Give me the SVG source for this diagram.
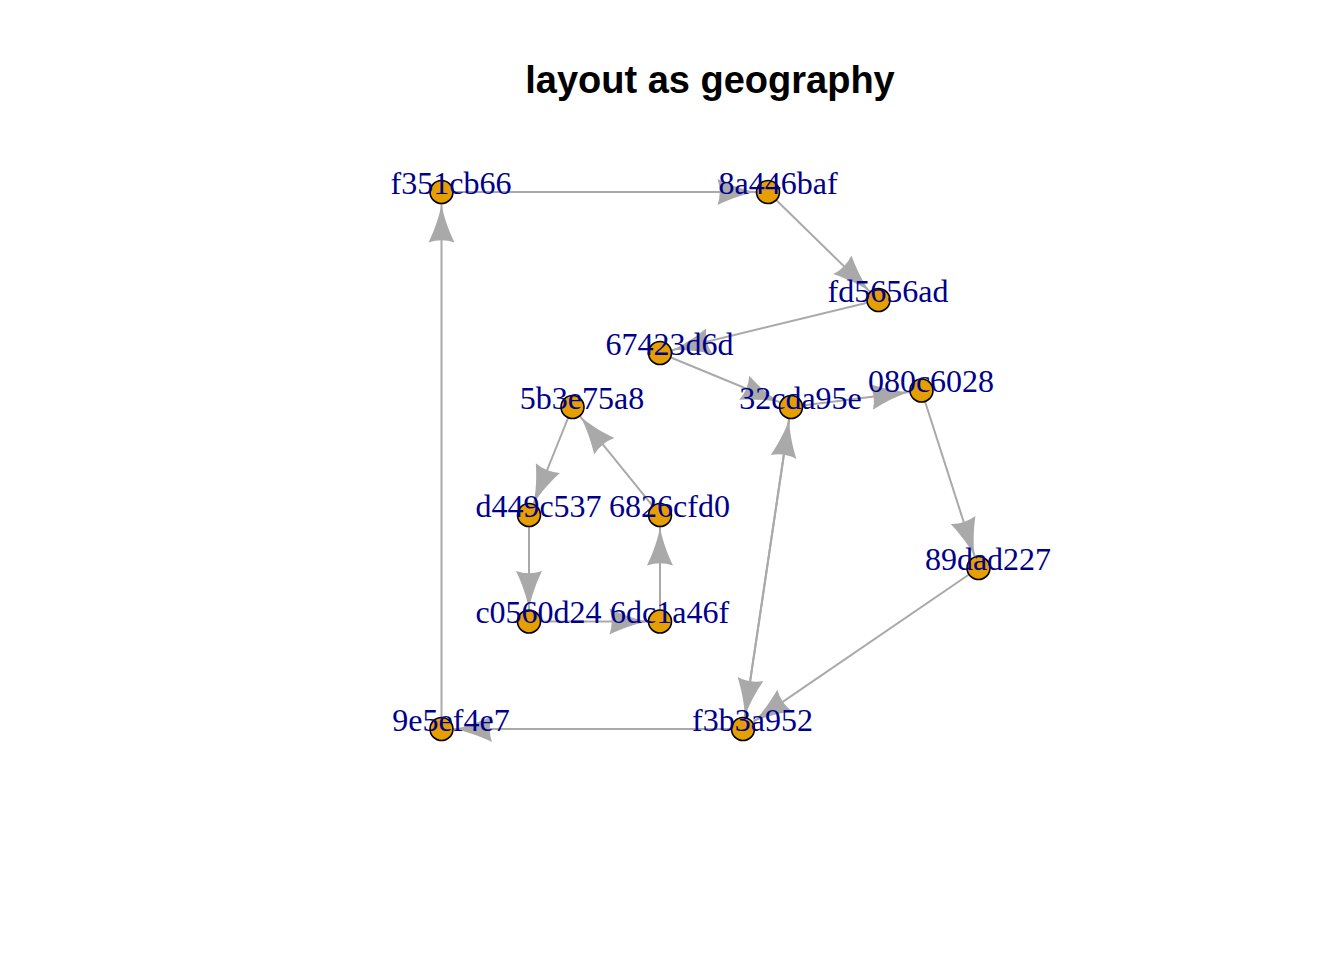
<svg xmlns="http://www.w3.org/2000/svg" width="1344" height="960" viewBox="0 0 1344 960">
<style>
.e{stroke:#A9A9A9;stroke-width:2;fill:none;marker-end:url(#ah)}
.n circle{fill:#E69F00;stroke:#000;stroke-width:1.6}
.n text{font-family:"Liberation Serif","Times New Roman",serif;font-size:32px;fill:#00008B;text-anchor:middle}
.title{font-family:"Liberation Sans",Arial,sans-serif;font-size:38px;font-weight:bold;text-anchor:middle;fill:#000}
</style>
<defs>
<marker id="ah" markerUnits="userSpaceOnUse" viewBox="-40 -15 41 30" refX="0" refY="0" markerWidth="41" markerHeight="30" orient="auto">
<path d="M0,0 C-12,-2 -26,-7 -38.5,-13 Q-34,0 -38.5,13 C-26,7 -12,2 0,0Z" fill="#A9A9A9"/>
</marker>
</defs>
<rect width="1344" height="960" fill="#fff"/>
<text class="title" x="710" y="93">layout as geography</text>
<g id="edges">
<path class="e" d="M441.5,192 L756,192"/>
<path class="e" d="M768,192 L869.9,291.6"/>
<path class="e" d="M878.5,300 L671.7,350.2"/>
<path class="e" d="M660,353 L779.9,402.4"/>
<path class="e" d="M791,407 L909.6,392"/>
<path class="e" d="M921.5,390.5 L974.8,556.6"/>
<path class="e" d="M978.5,568 L752.9,722.2"/>
<path class="e" d="M791,407 L744.8,717.1"/>
<path class="e" d="M743,729 L789.2,418.9"/>
<path class="e" d="M743,729 L453.5,729"/>
<path class="e" d="M441.5,729 L441.5,204"/>
<path class="e" d="M572.5,407 L533.5,503.9"/>
<path class="e" d="M529,515 L529,609.5"/>
<path class="e" d="M529,621.5 L648,621.5"/>
<path class="e" d="M660,621.5 L660,527"/>
<path class="e" d="M660,515 L580.1,416.3"/>
</g>
<g id="f351cb66" class="n"><circle cx="441.5" cy="192" r="11.5"/><text x="451" y="193.5">f351cb66</text></g>
<g id="8a446baf" class="n"><circle cx="768" cy="192" r="11.5"/><text x="778" y="193.5">8a446baf</text></g>
<g id="fd5656ad" class="n"><circle cx="878.5" cy="300" r="11.5"/><text x="888" y="301.5">fd5656ad</text></g>
<g id="67423d6d" class="n"><circle cx="660" cy="353" r="11.5"/><text x="669.5" y="354.5">67423d6d</text></g>
<g id="32cda95e" class="n"><circle cx="791" cy="407" r="11.5"/><text x="800.5" y="408.5">32cda95e</text></g>
<g id="080c6028" class="n"><circle cx="921.5" cy="390.5" r="11.5"/><text x="931" y="392">080c6028</text></g>
<g id="89dad227" class="n"><circle cx="978.5" cy="568" r="11.5"/><text x="988" y="569.5">89dad227</text></g>
<g id="f3b3a952" class="n"><circle cx="743" cy="729" r="11.5"/><text x="752.5" y="730.5">f3b3a952</text></g>
<g id="9e5ef4e7" class="n"><circle cx="441.5" cy="729" r="11.5"/><text x="451" y="730.5">9e5ef4e7</text></g>
<g id="5b3e75a8" class="n"><circle cx="572.5" cy="407" r="11.5"/><text x="582" y="408.5">5b3e75a8</text></g>
<g id="d449c537" class="n"><circle cx="529" cy="515" r="11.5"/><text x="538.5" y="516.5">d449c537</text></g>
<g id="6826cfd0" class="n"><circle cx="660" cy="515" r="11.5"/><text x="669.5" y="516.5">6826cfd0</text></g>
<g id="c0560d24" class="n"><circle cx="529" cy="621.5" r="11.5"/><text x="538.5" y="623">c0560d24</text></g>
<g id="6dc1a46f" class="n"><circle cx="660" cy="621.5" r="11.5"/><text x="669.5" y="623">6dc1a46f</text></g>
</svg>
